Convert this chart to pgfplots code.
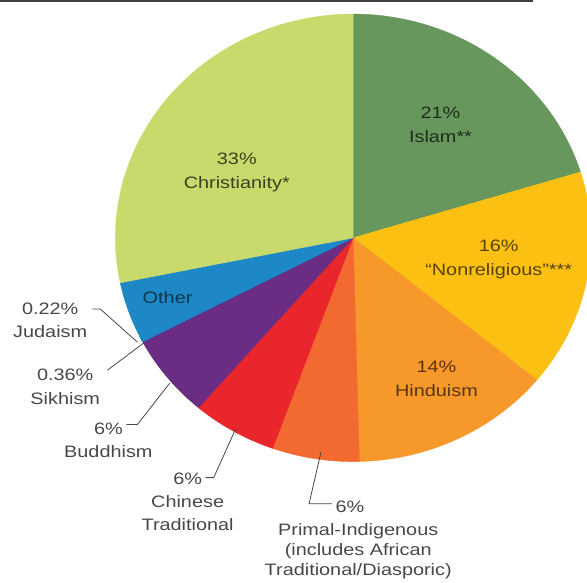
\documentclass[border=0pt]{standalone}
\usepackage{fontspec}
\setmainfont{Liberation Sans}[FakeStretch=1.2]
\usepackage{pgfplots}
\pgfplotsset{compat=1.18}
\definecolor{cIslam}{HTML}{67975C}
\definecolor{cChrist}{HTML}{C9DA6C}
\definecolor{cNonrel}{HTML}{FCC013}
\definecolor{cHindu}{HTML}{F7982A}
\definecolor{cPrimal}{HTML}{F26A30}
\definecolor{cChinese}{HTML}{E8262C}
\definecolor{cBuddh}{HTML}{6B2D83}
\definecolor{cOther}{HTML}{1E88C6}
\definecolor{cJud}{HTML}{5BC8F0}
\definecolor{cSikh}{HTML}{1B3A7A}
\definecolor{tGrey}{HTML}{474747}
\newcommand{\pieslice}[3]{%
  \addplot[fill=#1, draw=#1, line width=0.4pt, domain=#2:#3, samples=80, variable=\t]
    ({352+237*cos(t)},{238-223*sin(t)}) -- (axis cs:352,238) -- cycle;}
\begin{document}
\begin{tikzpicture}
\begin{axis}[
  width=585pt, height=587pt, scale only axis,
  xmin=0, xmax=585, ymin=0, ymax=587, y dir=reverse,
  hide axis, clip=true,
]
% slices: colour, start angle, end angle (degrees)
\pieslice{cIslam}{17.1}{90}
\pieslice{cNonrel}{-39.4}{17.1}
\pieslice{cHindu}{-88.5}{-39.4}
\pieslice{cPrimal}{-109.8}{-88.5}
\pieslice{cChinese}{-130.6}{-109.8}
\pieslice{cBuddh}{-154.0}{-130.6}
\pieslice{cJud}{-154.0}{-153.1}
\pieslice{cSikh}{-153.1}{-152.3}
\pieslice{cOther}{191.6}{207.7}
\pieslice{cChrist}{90}{191.6}
% leader lines
\draw[tGrey, line width=0.8pt] (axis cs:92,309) -- (axis cs:100,309) -- (axis cs:137,342);
\draw[tGrey, line width=0.8pt] (axis cs:107,370) -- (axis cs:143,343);
\draw[tGrey, line width=0.8pt] (axis cs:126,424) -- (axis cs:137,424) -- (axis cs:169,383);
\draw[tGrey, line width=0.8pt] (axis cs:205,477) -- (axis cs:213,477) -- (axis cs:235,428);
\draw[tGrey, line width=0.8pt] (axis cs:320,451) -- (axis cs:308,503) -- (axis cs:331,503);
% top rule
\draw[black!75, line width=2pt] (axis cs:0,2) -- (axis cs:531,2);
% labels
\begin{scope}[every node/.style={align=center, font=\fontsize{16.5}{24}\selectfont}]
\node[text=black!70!cIslam] at (axis cs:439,125.5) {21\%\\Islam**};
\node[text=black!65!cNonrel] at (axis cs:497,259.5) {16\%\\“Nonreligious”***};
\node[text=black!70!cChrist] at (axis cs:236,172.5) {33\%\\Christianity*};
\node[text=black!65!cHindu] at (axis cs:435,378.5) {14\%\\Hinduism};
\node[text=black!60!cOther] at (axis cs:167,298) {Other};
\end{scope}
\begin{scope}[every node/.style={align=center, text=tGrey, font=\fontsize{16.5}{23}\selectfont}]
\node at (axis cs:50,320) {0.22\%\\Judaism};
\node at (axis cs:65,386.5) {0.36\%\\Sikhism};
\node at (axis cs:108,439.5) {6\%\\Buddhism};
\node at (axis cs:187,501) {6\%\\Chinese\\Traditional};
\node[anchor=west] at (axis cs:331,506) {6\%};
\end{scope}
\node[align=center, text=tGrey, font=\fontsize{16.5}{20}\selectfont] at (axis cs:357,550) {Primal-Indigenous\\(includes African\\Traditional/Diasporic)};
\end{axis}
\end{tikzpicture}
\end{document}
